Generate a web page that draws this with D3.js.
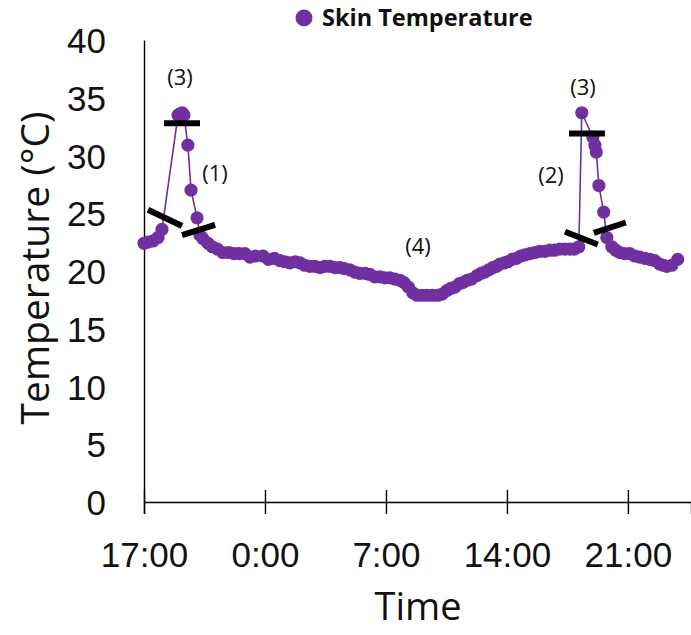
<!DOCTYPE html>
<html>
<head>
<meta charset="utf-8">
<script src="https://cdn.jsdelivr.net/npm/d3@7"></script>
<style>
  body { margin: 0; background: #fff; }
  svg { font-family: "Open Sans", sans-serif; }
</style>
</head>
<body>
<script>
// hours since 17:00 on day 1
const hours = [0.00, 0.23, 0.52, 0.81, 1.04, 1.97, 2.08, 2.20, 2.31, 2.54, 2.72, 3.07, 3.24, 3.41, 3.70, 3.95, 4.25, 4.57, 4.90, 5.20,
  5.50, 5.84, 6.13, 6.45, 6.88, 7.20, 7.55, 7.87, 8.15, 8.44, 8.75, 9.02, 9.30, 9.60, 9.90, 10.18, 10.45, 10.76, 11.05, 11.34,
  11.60, 11.91, 12.20, 12.49, 12.80, 13.07, 13.35, 13.65, 13.95, 14.23, 14.52, 14.81, 15.05, 15.30, 15.56, 15.80, 16.10, 16.40, 16.70, 17.00,
  17.25, 17.52, 17.75, 17.99, 18.25, 18.45, 18.70, 18.95, 19.26, 19.50, 19.72, 19.95, 20.19, 20.40, 20.59, 20.85, 21.05, 21.30, 21.55, 21.80,
  22.05, 22.33, 22.60, 22.90, 23.20, 23.48, 23.75, 24.06, 24.35, 24.64, 24.90, 25.16, 25.33, 25.97, 26.09, 26.17, 26.32, 26.60, 26.78, 27.07,
  27.30, 27.53, 27.80, 28.11, 28.40, 28.69, 28.98, 29.27, 29.55, 29.84, 30.05, 30.25, 30.54, 30.88];
const skinTemp = [22.4, 22.5, 22.6, 22.9, 23.6, 33.5, 33.6, 33.7, 33.5, 30.9, 27.0, 24.6, 23.1, 22.8, 22.4, 22.1, 21.9, 21.6, 21.6, 21.5,
  21.5, 21.5, 21.2, 21.3, 21.3, 21.0, 21.1, 20.9, 20.8, 20.7, 20.8, 20.7, 20.5, 20.4, 20.4, 20.3, 20.4, 20.4, 20.3, 20.3,
  20.2, 20.1, 19.9, 19.8, 19.8, 19.7, 19.5, 19.5, 19.4, 19.4, 19.3, 19.2, 19.0, 18.6, 18.1, 17.9, 17.9, 17.9, 17.9, 17.9,
  18.0, 18.3, 18.5, 18.6, 18.9, 19.0, 19.2, 19.3, 19.6, 19.8, 19.9, 20.1, 20.3, 20.4, 20.6, 20.7, 20.8, 21.0, 21.1, 21.3,
  21.4, 21.5, 21.6, 21.7, 21.7, 21.8, 21.8, 21.9, 21.9, 21.9, 21.9, 22.1, 33.7, 31.6, 30.9, 30.3, 27.4, 25.1, 22.9, 22.1,
  21.8, 21.6, 21.5, 21.5, 21.3, 21.2, 21.1, 21.0, 20.9, 20.6, 20.5, 20.4, 20.5, 21.0];

const tickHours = [0, 7, 14, 21, 28];
const tickLabels = ["17:00", "0:00", "7:00", "14:00", "21:00"];
const yTicks = [0, 5, 10, 15, 20, 25, 30, 35, 40];

// phase markers: [h1, t1, h2, t2]
const markSegments = [
  [0.23, 25.3, 2.20, 23.9],
  [2.20, 23.1, 4.11, 24.0],
  [1.16, 32.8, 3.24, 32.8],
  [24.59, 31.9, 26.67, 31.9],
  [24.36, 23.4, 26.26, 22.3],
  [26.03, 23.3, 27.88, 24.2]
];
const phaseLabels = [
  { text: "(3)", h: 2.08, t: 36.8 },
  { text: "(1)", h: 4.11, t: 28.5 },
  { text: "(3)", h: 25.40, t: 35.9 },
  { text: "(2)", h: 23.55, t: 28.3 },
  { text: "(4)", h: 15.85, t: 22.1 }
];

const width = 691, height = 635;
const purple = "#7030a0";

const svg = d3.select("body").append("svg")
  .attr("width", width)
  .attr("height", height);

const x = d3.scaleLinear().domain([0, 31.65]).range([144, 691]);
const y = d3.scaleLinear().domain([0, 40]).range([502, 40]);

// x axis with cross ticks
const xAxis = svg.append("g")
  .attr("transform", `translate(0,${y(0)})`)
  .call(d3.axisBottom(x).tickValues(tickHours).tickSizeOuter(0).tickSize(12)
    .tickFormat((d, i) => tickLabels[i]));
xAxis.select(".domain").attr("stroke", "#000").attr("stroke-width", 1.4);
xAxis.selectAll(".tick line").attr("y1", -12).attr("y2", 12).attr("stroke", "#000").attr("stroke-width", 1.4);
xAxis.selectAll(".tick text")
  .attr("y", 65).attr("dy", null)
  .style("font-size", "35px").attr("fill", "#111");

// y axis without ticks
const yAxis = svg.append("g")
  .attr("transform", `translate(${x(0)},0)`)
  .call(d3.axisLeft(y).tickValues(yTicks).tickSize(0).tickPadding(38));
yAxis.select(".domain").attr("stroke", "#000").attr("stroke-width", 1.4);
yAxis.selectAll(".tick text")
  .attr("dy", "0.36em")
  .style("font-size", "35px").attr("fill", "#111");

// axis titles
svg.append("text")
  .attr("x", 418).attr("y", 620)
  .attr("text-anchor", "middle")
  .style("font-size", "38px").attr("fill", "#111")
  .text("Time");

svg.append("text")
  .attr("transform", "translate(49,268) rotate(-90)")
  .attr("text-anchor", "middle")
  .style("font-size", "39px").attr("fill", "#111")
  .text("Temperature (°C)");

// series
const series = hours.map((h, i) => ({ h: h, t: skinTemp[i] }));

svg.append("path")
  .datum(series)
  .attr("fill", "none")
  .attr("stroke", purple)
  .attr("stroke-width", 1.6)
  .attr("d", d3.line().x(d => x(d.h)).y(d => y(d.t)));

svg.selectAll(".pt")
  .data(series)
  .enter()
  .append("circle")
  .attr("class", "pt")
  .attr("cx", d => x(d.h))
  .attr("cy", d => y(d.t))
  .attr("r", 6.6)
  .attr("fill", purple);

// black phase bars
svg.selectAll(".seg")
  .data(markSegments)
  .enter()
  .append("line")
  .attr("x1", d => x(d[0])).attr("y1", d => y(d[1]))
  .attr("x2", d => x(d[2])).attr("y2", d => y(d[3]))
  .attr("stroke", "#000")
  .attr("stroke-width", 6);

svg.selectAll(".phase")
  .data(phaseLabels)
  .enter()
  .append("text")
  .attr("x", d => x(d.h))
  .attr("y", d => y(d.t))
  .attr("text-anchor", "middle")
  .attr("dy", "0.35em")
  .style("font-size", "22px")
  .attr("fill", "#111")
  .text(d => d.text);

// legend
svg.append("circle").attr("cx", 304).attr("cy", 18).attr("r", 8.5).attr("fill", purple);
svg.append("text")
  .attr("x", 322).attr("y", 18).attr("dy", "0.35em")
  .style("font-size", "23.5px").style("font-weight", "bold").attr("fill", "#111")
  .text("Skin Temperature");
</script>
</body>
</html>
